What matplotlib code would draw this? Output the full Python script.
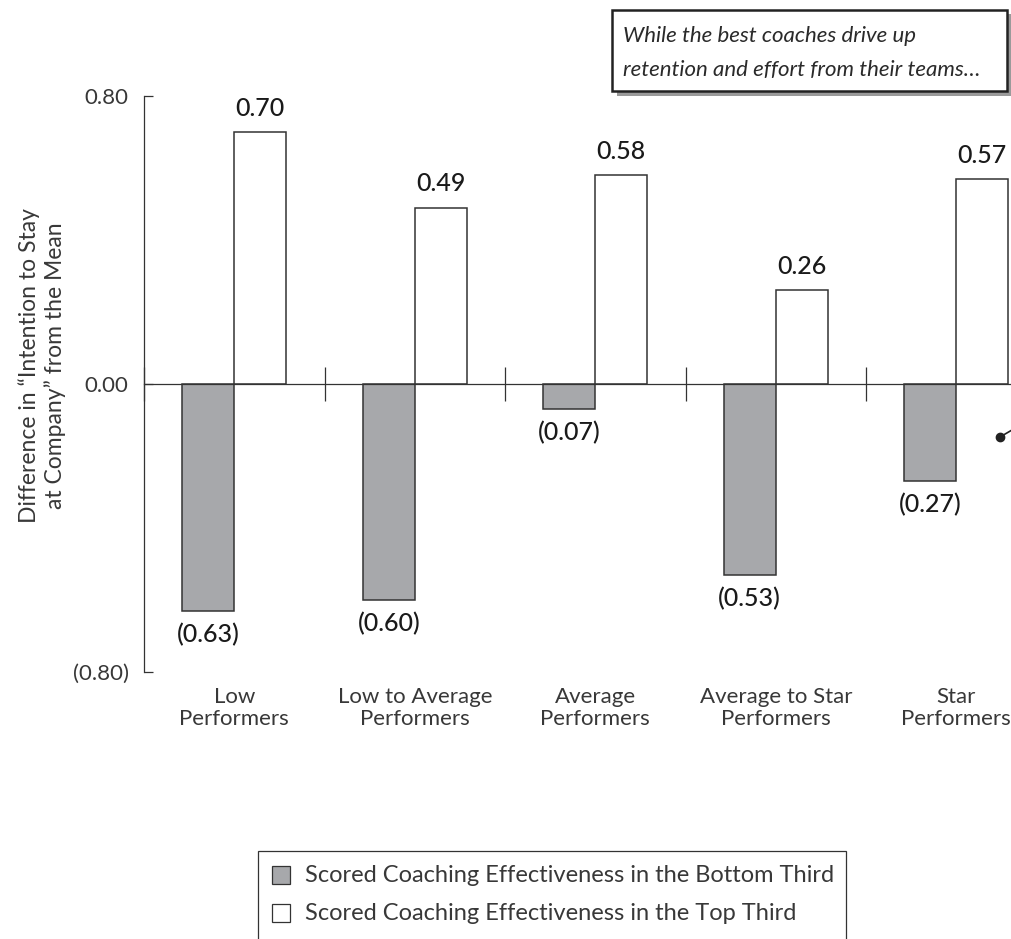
import matplotlib
matplotlib.use("Agg")
import matplotlib.pyplot as plt
from matplotlib.patches import Rectangle
from matplotlib.lines import Line2D
import numpy as np

# performance groups and mean-difference scores for each coaching tier
groups = ["Low\nPerformers", "Low to Average\nPerformers", "Average\nPerformers",
          "Average to Star\nPerformers", "Star\nPerformers"]
bottom_third = [-0.63, -0.60, -0.07, -0.53, -0.27]
top_third = [0.70, 0.49, 0.58, 0.26, 0.57]
yticks = [0.80, 0.00, -0.80]
ytick_labels = ["0.80", "0.00", "(0.80)"]
legend_labels = ["Scored Coaching Effectiveness in the Bottom Third",
                 "Scored Coaching Effectiveness in the Top Third"]
callout = ["While the best coaches drive up",
           "retention and effort from their teams\u2026"]

GRAY = "#a7a8ab"
INK = "#333333"
TXT = "#383838"
W, H = 1011, 939

plt.rcParams["font.family"] = ["Lato", "DejaVu Sans"]


def fmt(v):
    return f"({abs(v):.2f})" if v < 0 else f"{v:.2f}"


def px(x0, y0):
    """pixel position (from top-left) -> figure fraction"""
    return x0 / W, 1 - y0 / H


fig = plt.figure(figsize=(W / 100, H / 100), dpi=100)
ax = fig.add_axes([144 / W, 1 - 672 / H, 902.5 / W, 576 / H])

x = np.arange(len(groups))
bw = 0.288
b1 = ax.bar(x - bw / 2, bottom_third, bw, color=GRAY, edgecolor=INK, lw=1.1, zorder=2)
b2 = ax.bar(x + bw / 2, top_third, bw, color="white", edgecolor=INK, lw=1.1, zorder=2)

for rect, v in list(zip(b1, bottom_third)) + list(zip(b2, top_third)):
    cx = rect.get_x() + rect.get_width() / 2
    ax.annotate(fmt(v), (cx, v), xytext=(0, 17 if v > 0 else -17),
                textcoords="offset points", ha="center", va="center",
                fontsize=18, fontweight="medium", color="#1a1a1a")

ax.set_xlim(-0.5, len(groups) - 0.5)
ax.set_ylim(-0.8, 0.8)

for s in ("top", "right"):
    ax.spines[s].set_visible(False)
ax.spines["bottom"].set_position(("data", 0))
for s in ("left", "bottom"):
    ax.spines[s].set_color(INK)
    ax.spines[s].set_linewidth(0.9)
    ax.spines[s].set_zorder(3)

ax.set_xticks(np.arange(len(groups) + 1) - 0.5)
ax.set_xticklabels([])
ax.tick_params(axis="x", direction="inout", length=24, width=0.9, color=INK)
ax.set_yticks(yticks)
ax.set_yticklabels(ytick_labels)
ax.tick_params(axis="y", direction="in", length=6.5, width=0.9, color=INK,
               pad=11, labelsize=16, labelcolor=TXT)

for i, g in enumerate(groups):
    ax.annotate(g, (i, 0), xycoords=("data", "axes fraction"), xytext=(0, -11),
                textcoords="offset points", ha="center", va="top",
                fontsize=16, color=TXT, linespacing=1.08)

fig.text(*px(42, 366),
         "Difference in \u201cIntention to Stay\nat Company\u201d from the Mean",
         rotation=90, ha="center", va="center", multialignment="center",
         fontsize=16.5, color=TXT, linespacing=1.2)

# callout box with a drop shadow
fig.add_artist(Rectangle(px(617, 96), 395 / W, 82 / H, transform=fig.transFigure,
                         facecolor="#9a9a9a", edgecolor="none"))
fig.add_artist(Rectangle(px(612, 91), 395 / W, 81 / H, transform=fig.transFigure,
                         facecolor="white", edgecolor="#222222", lw=1.8))
for j, line in enumerate(callout):
    fig.text(*px(623, 36 + 34 * j), line, ha="left", va="center",
             fontsize=16, style="italic", color="#2a2a2a")

# connector leading off the right edge
fig.add_artist(Line2D([1000 / W, 1012 / W], [1 - 437 / H, 1 - 430 / H],
                      transform=fig.transFigure, color="#222222", lw=1.2))
fig.add_artist(Line2D([1000 / W], [1 - 437 / H], transform=fig.transFigure,
                      marker="o", ms=6, color="#222222"))

# legend box (runs off the bottom edge)
fig.add_artist(Rectangle(px(258, 955), 588 / W, 104 / H, transform=fig.transFigure,
                         facecolor="white", edgecolor=INK, lw=0.9))
for j, (lab, fc) in enumerate(zip(legend_labels, [GRAY, "white"])):
    yc = 875 + 38 * j
    fig.add_artist(Rectangle(px(272, yc + 9), 18 / W, 18 / H,
                             transform=fig.transFigure, facecolor=fc,
                             edgecolor=INK, lw=0.9))
    fig.text(*px(305, yc), lab, ha="left", va="center", fontsize=17, color=TXT)

fig.savefig("out.png", dpi=100)
